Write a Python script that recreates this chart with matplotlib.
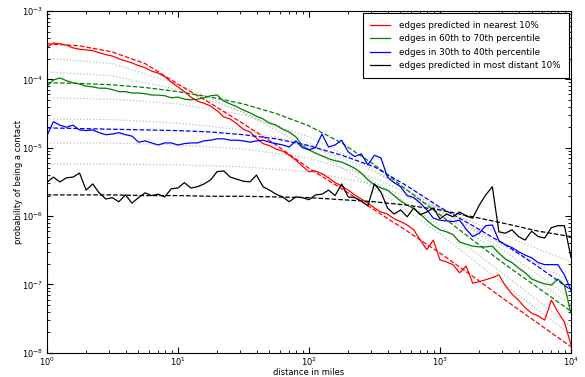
import numpy as np
import matplotlib
matplotlib.use('Agg')
import matplotlib.pyplot as plt

plt.rcParams['font.family'] = 'DejaVu Sans'
plt.rcParams['mathtext.default'] = 'regular'
plt.rcParams['font.size'] = 6

# log10 of the distance (miles) where the binned curves were read
log_miles = [0.00, 0.05, 0.10, 0.15, 0.20, 0.25, 0.30, 0.35, 0.40, 0.45,
             0.50, 0.55, 0.60, 0.65, 0.70, 0.75, 0.80, 0.85, 0.90, 0.95,
             1.00, 1.05, 1.10, 1.15, 1.20, 1.25, 1.30, 1.35, 1.40, 1.45,
             1.50, 1.55, 1.60, 1.65, 1.70, 1.75, 1.80, 1.85, 1.90, 1.95,
             2.00, 2.05, 2.10, 2.15, 2.20, 2.25, 2.30, 2.35, 2.40, 2.45,
             2.50, 2.55, 2.60, 2.65, 2.70, 2.75, 2.80, 2.85, 2.90, 2.95,
             3.00, 3.05, 3.10, 3.15, 3.20, 3.25, 3.30, 3.35, 3.40, 3.45,
             3.50, 3.55, 3.60, 3.65, 3.70, 3.75, 3.80, 3.85, 3.90, 3.95, 4.00]

# log10 of probability of being a contact
log_p_nearest = [-3.53, -3.47, -3.48, -3.50, -3.54, -3.56, -3.57, -3.58, -3.61, -3.64,
                 -3.66, -3.70, -3.73, -3.76, -3.80, -3.83, -3.88, -3.91, -3.96, -4.04,
                 -4.11, -4.18, -4.26, -4.32, -4.35, -4.39, -4.46, -4.55, -4.58, -4.65,
                 -4.73, -4.77, -4.86, -4.94, -4.97, -5.02, -5.05, -5.11, -5.18, -5.27,
                 -5.35, -5.34, -5.38, -5.44, -5.51, -5.56, -5.62, -5.69, -5.75, -5.81,
                 -5.88, -5.94, -5.97, -6.04, -6.08, -6.13, -6.20, -6.35, -6.49, -6.35,
                 -6.64, -6.67, -6.71, -6.83, -6.73, -6.98, -6.96, -6.93, -6.90, -6.86,
                 -7.02, -7.14, -7.23, -7.34, -7.42, -7.46, -7.52, -7.23, -7.40, -7.55, -7.88]

log_p_60_70 = [-4.10, -4.01, -3.98, -4.02, -4.05, -4.07, -4.10, -4.11, -4.13, -4.13,
               -4.15, -4.18, -4.18, -4.20, -4.20, -4.21, -4.23, -4.23, -4.24, -4.27,
               -4.26, -4.29, -4.30, -4.29, -4.27, -4.24, -4.23, -4.32, -4.36, -4.40,
               -4.45, -4.49, -4.54, -4.58, -4.64, -4.67, -4.73, -4.77, -4.84, -4.97,
               -5.03, -5.08, -5.12, -5.16, -5.19, -5.21, -5.25, -5.30, -5.37, -5.47,
               -5.54, -5.59, -5.62, -5.70, -5.78, -5.84, -5.89, -5.97, -6.06, -6.14,
               -6.20, -6.23, -6.27, -6.38, -6.41, -6.44, -6.45, -6.45, -6.44, -6.54,
               -6.63, -6.68, -6.76, -6.83, -6.92, -6.96, -6.99, -7.01, -6.92, -7.01, -7.42]

log_p_30_40 = [-4.83, -4.62, -4.67, -4.70, -4.67, -4.74, -4.75, -4.74, -4.78, -4.81,
               -4.80, -4.78, -4.81, -4.83, -4.92, -4.90, -4.93, -4.96, -4.93, -4.93,
               -4.96, -4.94, -4.93, -4.93, -4.90, -4.89, -4.87, -4.87, -4.89, -4.89,
               -4.90, -4.92, -4.90, -4.89, -4.92, -4.94, -4.96, -4.99, -4.90, -5.00,
               -5.03, -5.00, -4.80, -4.99, -4.96, -4.89, -5.06, -5.13, -5.09, -5.25,
               -5.11, -5.15, -5.43, -5.51, -5.57, -5.70, -5.73, -5.81, -5.91, -6.03,
               -6.06, -6.07, -6.08, -6.06, -6.19, -6.30, -6.25, -6.14, -6.13, -6.36,
               -6.42, -6.46, -6.52, -6.57, -6.61, -6.68, -6.71, -6.71, -6.71, -6.86, -7.08]

log_p_distant = [-5.51, -5.43, -5.50, -5.44, -5.43, -5.37, -5.62, -5.53, -5.66, -5.75,
                 -5.73, -5.79, -5.69, -5.81, -5.73, -5.66, -5.70, -5.68, -5.72, -5.60,
                 -5.59, -5.51, -5.59, -5.57, -5.53, -5.47, -5.35, -5.34, -5.43, -5.46,
                 -5.49, -5.50, -5.40, -5.57, -5.62, -5.68, -5.72, -5.79, -5.72, -5.73,
                 -5.76, -5.69, -5.68, -5.62, -5.70, -5.53, -5.72, -5.73, -5.78, -5.85,
                 -5.53, -5.65, -5.88, -5.97, -5.91, -6.01, -5.88, -5.98, -5.94, -5.88,
                 -6.04, -5.97, -6.01, -5.94, -6.00, -6.03, -5.84, -5.69, -5.57, -6.23,
                 -6.25, -6.20, -6.30, -6.35, -6.22, -6.30, -6.32, -6.17, -6.14, -6.14, -6.60]

# fitted curves (dashed), log10 values
fit_x = [0.00, 0.25, 0.50, 0.75, 1.00, 1.25, 1.50, 1.75, 2.00, 2.25, 2.50, 2.75, 3.00, 3.25, 3.50, 3.75, 4.00]
fit_nearest = [-3.48, -3.51, -3.60, -3.77, -4.07, -4.35, -4.65, -4.96, -5.30, -5.60, -5.91, -6.22, -6.54, -6.88, -7.23, -7.57, -7.91]
fit_60_70 = [-4.05, -4.06, -4.08, -4.12, -4.18, -4.26, -4.36, -4.50, -4.68, -4.93, -5.25, -5.62, -5.98, -6.35, -6.71, -7.05, -7.39]
fit_30_40 = [-4.71, -4.72, -4.73, -4.74, -4.75, -4.77, -4.81, -4.87, -4.97, -5.11, -5.28, -5.56, -5.87, -6.14, -6.42, -6.74, -7.08]
fit_distant = [-5.69, -5.69, -5.69, -5.70, -5.70, -5.71, -5.71, -5.72, -5.73, -5.76, -5.79, -5.84, -5.91, -6.01, -6.11, -6.22, -6.30]

# fits for the other deciles (gray dotted), log10 values
gray_x = [0.0, 0.5, 1.0, 1.5, 2.0, 2.5, 3.0, 3.5, 4.0]
gray_fits = [
    [-3.69, -3.77, -4.07, -4.49, -5.00, -5.59, -6.26, -7.01, -7.74],
    [-3.89, -3.95, -4.15, -4.48, -4.93, -5.50, -6.14, -6.87, -7.61],
    [-4.27, -4.29, -4.36, -4.52, -4.84, -5.32, -5.94, -6.61, -7.30],
    [-4.58, -4.59, -4.64, -4.74, -4.96, -5.35, -5.89, -6.52, -7.20],
    [-4.93, -4.93, -4.96, -5.02, -5.15, -5.44, -5.91, -6.45, -6.96],
    [-5.24, -5.24, -5.25, -5.28, -5.35, -5.54, -5.89, -6.29, -6.67],
]

labels = ['edges predicted in nearest 10%', 'edges in 60th to 70th percentile',
          'edges in 30th to 40th percentile', 'edges predicted in most distant 10%']
colors = ['r', 'g', 'b', 'k']

fig = plt.figure(figsize=(5.85, 3.77), dpi=100)
ax = fig.add_axes([0.080, 0.064, 0.896, 0.907])

x = 10 ** np.array(log_miles)
fx = 10 ** np.array(fit_x)
gx = 10 ** np.array(gray_x)

for g in gray_fits:
    ax.plot(gx, 10 ** np.array(g), ':', color='0.75', lw=0.9)

series = [log_p_nearest, log_p_60_70, log_p_30_40, log_p_distant]
fits = [fit_nearest, fit_60_70, fit_30_40, fit_distant]
for s, f, c, lab in zip(series, fits, colors, labels):
    ax.plot(x, 10 ** np.array(s), '-', color=c, lw=0.9, label=lab)
    ax.plot(fx, 10 ** np.array(f), '--', color=c, lw=0.9)

ax.set_xscale('log')
ax.set_yscale('log')
ax.set_xlim(1, 1e4)
ax.set_ylim(1e-8, 1e-3)
ax.tick_params(which='both', direction='in', top=True, right=True, labelsize=6)
ax.tick_params(which='major', length=4)
ax.tick_params(which='minor', length=2)
ax.tick_params(axis='x', which='major', pad=2)
ax.tick_params(axis='y', which='major', pad=3)
ax.set_xlabel('distance in miles', labelpad=0)
ax.set_ylabel('probability of being a contact', labelpad=-1)

leg = ax.legend(loc='upper right', fontsize=6.3, handlelength=2.2, handletextpad=1.1,
                borderpad=0.9, borderaxespad=0.25, fancybox=False, framealpha=1,
                labelspacing=0.5)
leg.get_frame().set_edgecolor('k')
leg.get_frame().set_linewidth(0.8)

fig.savefig('out.png', dpi=100)
